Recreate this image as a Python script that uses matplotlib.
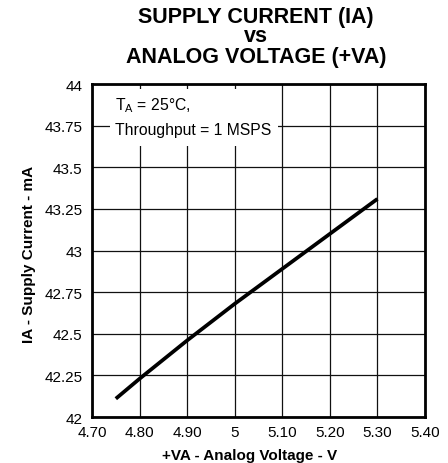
import numpy as np
import matplotlib.pyplot as plt
from matplotlib.patches import Rectangle

plt.rcParams['font.family'] = ['Liberation Sans', 'DejaVu Sans']
plt.rcParams['mathtext.default'] = 'regular'

# supply current vs analog supply voltage
va = [4.75, 4.80, 4.90, 5.00, 5.10, 5.20, 5.30]
ia = [42.11, 42.23, 42.46, 42.68, 42.89, 43.10, 43.31]

xticks = [4.70, 4.80, 4.90, 5.00, 5.10, 5.20, 5.30, 5.40]
xticklabels = ['4.70', '4.80', '4.90', '5', '5.10', '5.20', '5.30', '5.40']
yticks = [42, 42.25, 42.5, 42.75, 43, 43.25, 43.5, 43.75, 44]
yticklabels = ['42', '42.25', '42.5', '42.75', '43', '43.25', '43.5', '43.75', '44']

fig = plt.figure(figsize=(4.48, 4.64), dpi=100)
ax = fig.add_axes([0.2054, 0.0991, 0.7433, 0.7177])

ax.plot(va, ia, color='black', lw=2.7, solid_capstyle='butt', zorder=4)

ax.set_xlim(4.70, 5.40)
ax.set_ylim(42, 44)
ax.set_xticks(xticks)
ax.set_xticklabels(xticklabels)
ax.set_yticks(yticks)
ax.set_yticklabels(yticklabels)
ax.tick_params(length=0, labelsize=11)
ax.tick_params(axis='y', pad=7)
ax.tick_params(axis='x', pad=5.5)
ax.grid(True, color='#111111', lw=0.9)
ax.set_axisbelow(True)
for s in ax.spines.values():
    s.set_linewidth(2)

ax.set_xlabel('+VA - Analog Voltage - V', fontsize=11, fontweight='bold', va='baseline')
ax.xaxis.set_label_coords(0.473, -0.126)
ax.set_ylabel('IA - Supply Current - mA', fontsize=11, fontweight='bold', va='center')
ax.yaxis.set_label_coords(-0.19, 0.4925)

# white patch behind the conditions note
ax.add_patch(Rectangle((0.054, 0.814), 0.505, 0.171, transform=ax.transAxes,
                       facecolor='white', edgecolor='none', zorder=2))
ax.text(0.069, 0.923, '$T_A$ = 25°C,', transform=ax.transAxes, fontsize=11.3,
        va='baseline', ha='left', zorder=3)
ax.text(0.069, 0.850, 'Throughput = 1 MSPS', transform=ax.transAxes, fontsize=11.3,
        va='baseline', ha='left', zorder=3)

title_lines = ['SUPPLY CURRENT (IA)', 'vs', 'ANALOG VOLTAGE (+VA)']
title_y = [0.9498, 0.9088, 0.8636]
for line, y in zip(title_lines, title_y):
    fig.text(0.572, y, line, ha='center', va='baseline', fontsize=15.5, fontweight='bold')

fig.savefig('out.png', dpi=100)
